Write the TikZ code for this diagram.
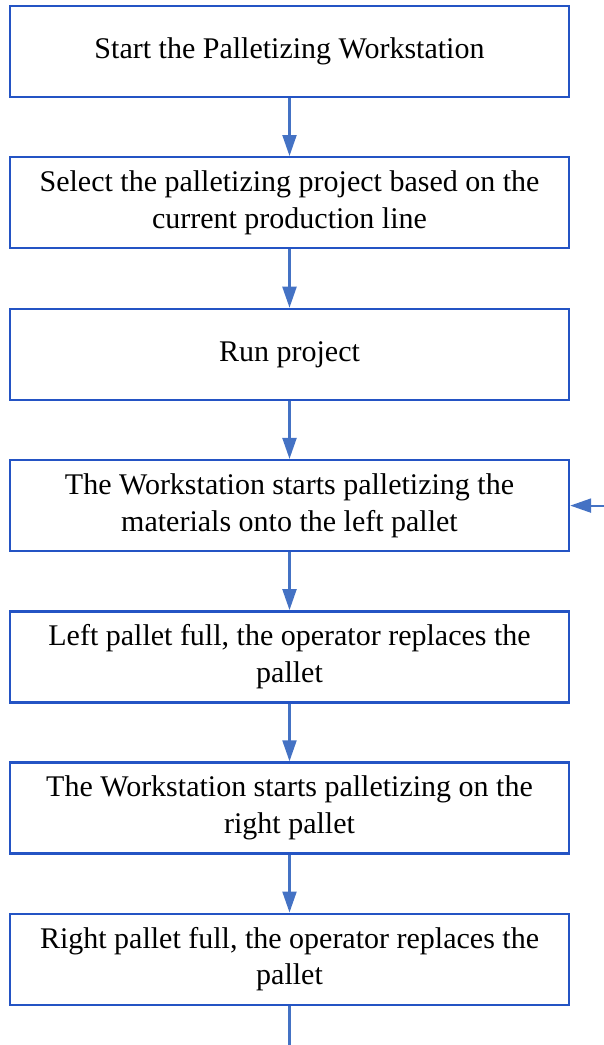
\documentclass[tikz,border=0pt]{standalone}
\usepackage{fontspec}
\setmainfont{Liberation Serif}
\usetikzlibrary{arrows.meta}
\definecolor{boxblue}{RGB}{36,84,196}
\definecolor{arrowblue}{RGB}{68,114,196}
\tikzset{
  stepbox/.style={draw=boxblue, line width=2.4pt, minimum width=559pt, minimum height=91pt,
    inner sep=0pt, align=center, fill=white,
    font=\fontsize{30}{36.5}\selectfont},
  flow/.style={draw=arrowblue, line width=2.2pt, -{Triangle[length=21pt,width=14pt]}}
}
\begin{document}
\begin{tikzpicture}[x=1pt,y=-1pt]
\useasboundingbox (0,0) rectangle (604,1045);
\node[stepbox] (b1) at (289.5,51.5) {Start the Palletizing Workstation};
\node[stepbox] (b2) at (289.5,202.7) {Select the palletizing project based on the\\current production line};
\node[stepbox] (b3) at (289.5,354.4) {Run project};
\node[stepbox] (b4) at (289.5,505.6) {The Workstation starts palletizing the\\materials onto the left pallet};
\node[stepbox] (b5) at (289.5,656.8) {Left pallet full, the operator replaces the\\pallet};
\node[stepbox] (b6) at (289.5,808) {The Workstation starts palletizing on the\\right pallet};
\node[stepbox] (b7) at (289.5,959.2) {Right pallet full, the operator replaces the\\pallet};
\coordinate (rin) at (604,505.6);
\coordinate (bout) at (289.5,1045);
\draw[flow] (b1) -- (b2);
\draw[flow] (b2) -- (b3);
\draw[flow] (b3) -- (b4);
\draw[flow] (b4) -- (b5);
\draw[flow] (b5) -- (b6);
\draw[flow] (b6) -- (b7);
\draw[flow] (rin) -- (b4);
\draw[draw=arrowblue, line width=2.2pt] (b7) -- (bout);
\end{tikzpicture}
\end{document}
